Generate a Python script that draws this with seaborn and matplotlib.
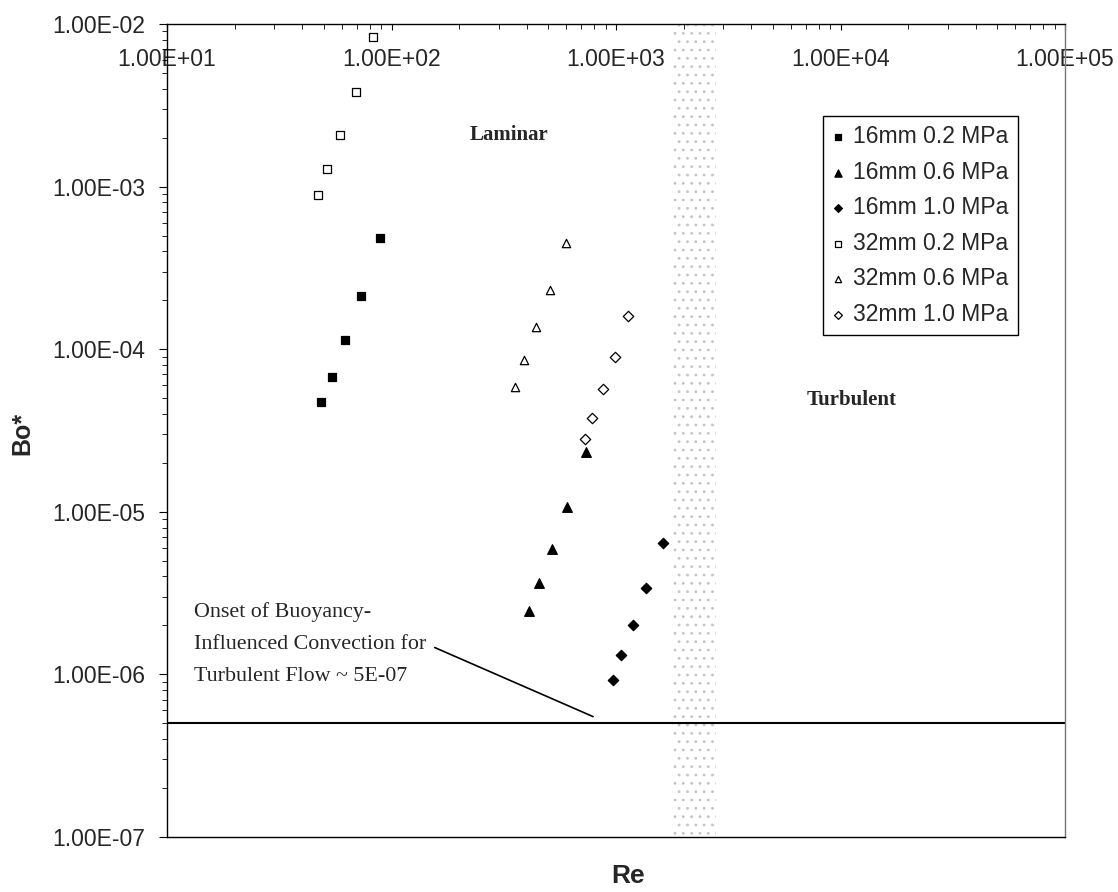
import numpy as np
import pandas as pd
import matplotlib
matplotlib.use("Agg")
import matplotlib.pyplot as plt
from matplotlib.ticker import FuncFormatter, LogLocator, NullFormatter
import seaborn as sns

# Values (Re vs Bo*)
re_16_02 = [88.8, 72.9, 61.8, 54.3, 48.5]
bo_16_02 = [4.81e-4, 2.13e-4, 1.14e-4, 6.77e-5, 4.72e-5]

re_16_06 = [734, 602, 521, 455, 410]
bo_16_06 = [2.32e-5, 1.07e-5, 5.88e-6, 3.65e-6, 2.47e-6]

re_16_10 = [1627, 1367, 1194, 1052, 970]
bo_16_10 = [6.46e-6, 3.38e-6, 2.01e-6, 1.31e-6, 9.24e-7]

re_32_02 = [82.6, 69.4, 58.9, 51.4, 46.9]
bo_32_02 = [8.32e-3, 3.83e-3, 2.08e-3, 1.28e-3, 8.88e-4]

re_32_06 = [596, 507, 440, 390, 354]
bo_32_06 = [4.52e-4, 2.31e-4, 1.36e-4, 8.58e-5, 5.88e-5]

re_32_10 = [1129, 985, 871, 780, 724]
bo_32_10 = [1.60e-4, 8.95e-5, 5.71e-5, 3.79e-5, 2.79e-5]

labels = ["16mm 0.2 MPa", "16mm 0.6 MPa", "16mm 1.0 MPa",
          "32mm 0.2 MPa", "32mm 0.6 MPa", "32mm 1.0 MPa"]

onset_bo = 5e-7
transition_re = (1780, 2800)

# style per series: marker, face colour, size
series_style = {
    "16mm 0.2 MPa": ("s", "black", 36),
    "16mm 0.6 MPa": ("^", "black", 48),
    "16mm 1.0 MPa": ("D", "black", 28),
    "32mm 0.2 MPa": ("s", "white", 30),
    "32mm 0.6 MPa": ("^", "white", 36),
    "32mm 1.0 MPa": ("D", "white", 28),
}

frames = []
for lab, re, bo in zip(labels,
                       [re_16_02, re_16_06, re_16_10, re_32_02, re_32_06, re_32_10],
                       [bo_16_02, bo_16_06, bo_16_10, bo_32_02, bo_32_06, bo_32_10]):
    frames.append(pd.DataFrame({"Re": re, "Bo": bo, "series": lab}))
df = pd.concat(frames, ignore_index=True)

sns.set_style("ticks")
plt.rcParams["font.family"] = ["Liberation Sans", "DejaVu Sans"]
plt.rcParams["hatch.linewidth"] = 0.8

fig = plt.figure(figsize=(11.18, 8.92), dpi=100)
ax = fig.add_axes([0.1494, 0.0617, 0.8032, 0.9114])

# transition band (stippled)
ax.axvspan(*transition_re, facecolor="none", edgecolor="#c4c4c4",
           hatch="..", lw=0, zorder=0)

for lab in labels:
    marker, face, size = series_style[lab]
    sub = df[df["series"] == lab]
    sns.scatterplot(data=sub, x="Re", y="Bo", ax=ax, marker=marker,
                    color=face, edgecolor="black", linewidth=0.9,
                    s=size, label=lab, zorder=3)

ax.axhline(onset_bo, color="black", lw=1.5, zorder=2)

ax.set_xscale("log")
ax.set_yscale("log")
ax.set_xlim(10, 1e5)
ax.set_ylim(1e-7, 1e-2)

sci = FuncFormatter(lambda v, _: f"{v:.2E}")
ax.xaxis.set_major_formatter(sci)
ax.yaxis.set_major_formatter(sci)
ax.xaxis.set_minor_locator(LogLocator(base=10, subs=np.arange(2, 10)))
ax.yaxis.set_minor_locator(LogLocator(base=10, subs=np.arange(2, 10)))
ax.xaxis.set_minor_formatter(NullFormatter())
ax.yaxis.set_minor_formatter(NullFormatter())

ax.tick_params(axis="x", which="both", top=True, bottom=False,
               labeltop=True, labelbottom=False, direction="in",
               color="black")
ax.tick_params(axis="x", which="major", length=4.5, pad=-34, labelsize=16.5)
ax.tick_params(axis="x", which="minor", length=3.5)
ax.tick_params(axis="y", which="both", left=True, right=False,
               direction="out", color="black")
ax.tick_params(axis="y", which="major", length=5.5, pad=10, labelsize=16.5)
ax.tick_params(axis="y", which="minor", length=3.5)

for sp in ax.spines.values():
    sp.set_visible(True)
    sp.set_color("black")
    sp.set_linewidth(1.0)
ax.spines["right"].set_color("#777777")

ax.set_xlabel("")
ax.set_ylabel("")
fig.text(628 / 1118, 1 - 876 / 892, "Re", ha="center", va="center",
         fontsize=19, fontweight="bold")
fig.text(22 / 1118, 1 - 433 / 892, "Bo*", ha="center", va="center",
         rotation=90, fontsize=18, fontweight="bold")

serif = ["Liberation Serif", "DejaVu Serif"]
ax.text(335, 2.08e-3, "Laminar", family=serif, fontweight="bold",
        fontsize=15, ha="center", va="center")
ax.text(1.12e4, 4.88e-5, "Turbulent", family=serif, fontweight="bold",
        fontsize=15, ha="center", va="center")

ax.annotate("Onset of Buoyancy-\nInfluenced Convection for\nTurbulent Flow ~ 5E-07",
            xy=(790, 5.5e-7), xytext=(13.2, 1.54e-6),
            ha="left", va="center", family=serif, fontsize=15.8,
            linespacing=1.95,
            arrowprops=dict(arrowstyle="-", color="black", lw=1.2,
                            shrinkA=4, shrinkB=0,
                            relpos=(1.0, 0.5)))

leg = ax.legend(loc="upper left", bbox_to_anchor=(0.731, 0.887),
                borderaxespad=0, frameon=True, fancybox=False,
                edgecolor="black", fontsize=16.5, handlelength=0.5,
                handletextpad=0.4, labelspacing=0.55, borderpad=0.4,
                markerscale=0.75, framealpha=1)
leg.get_frame().set_linewidth(1.0)

fig.savefig("out.png", dpi=100)
